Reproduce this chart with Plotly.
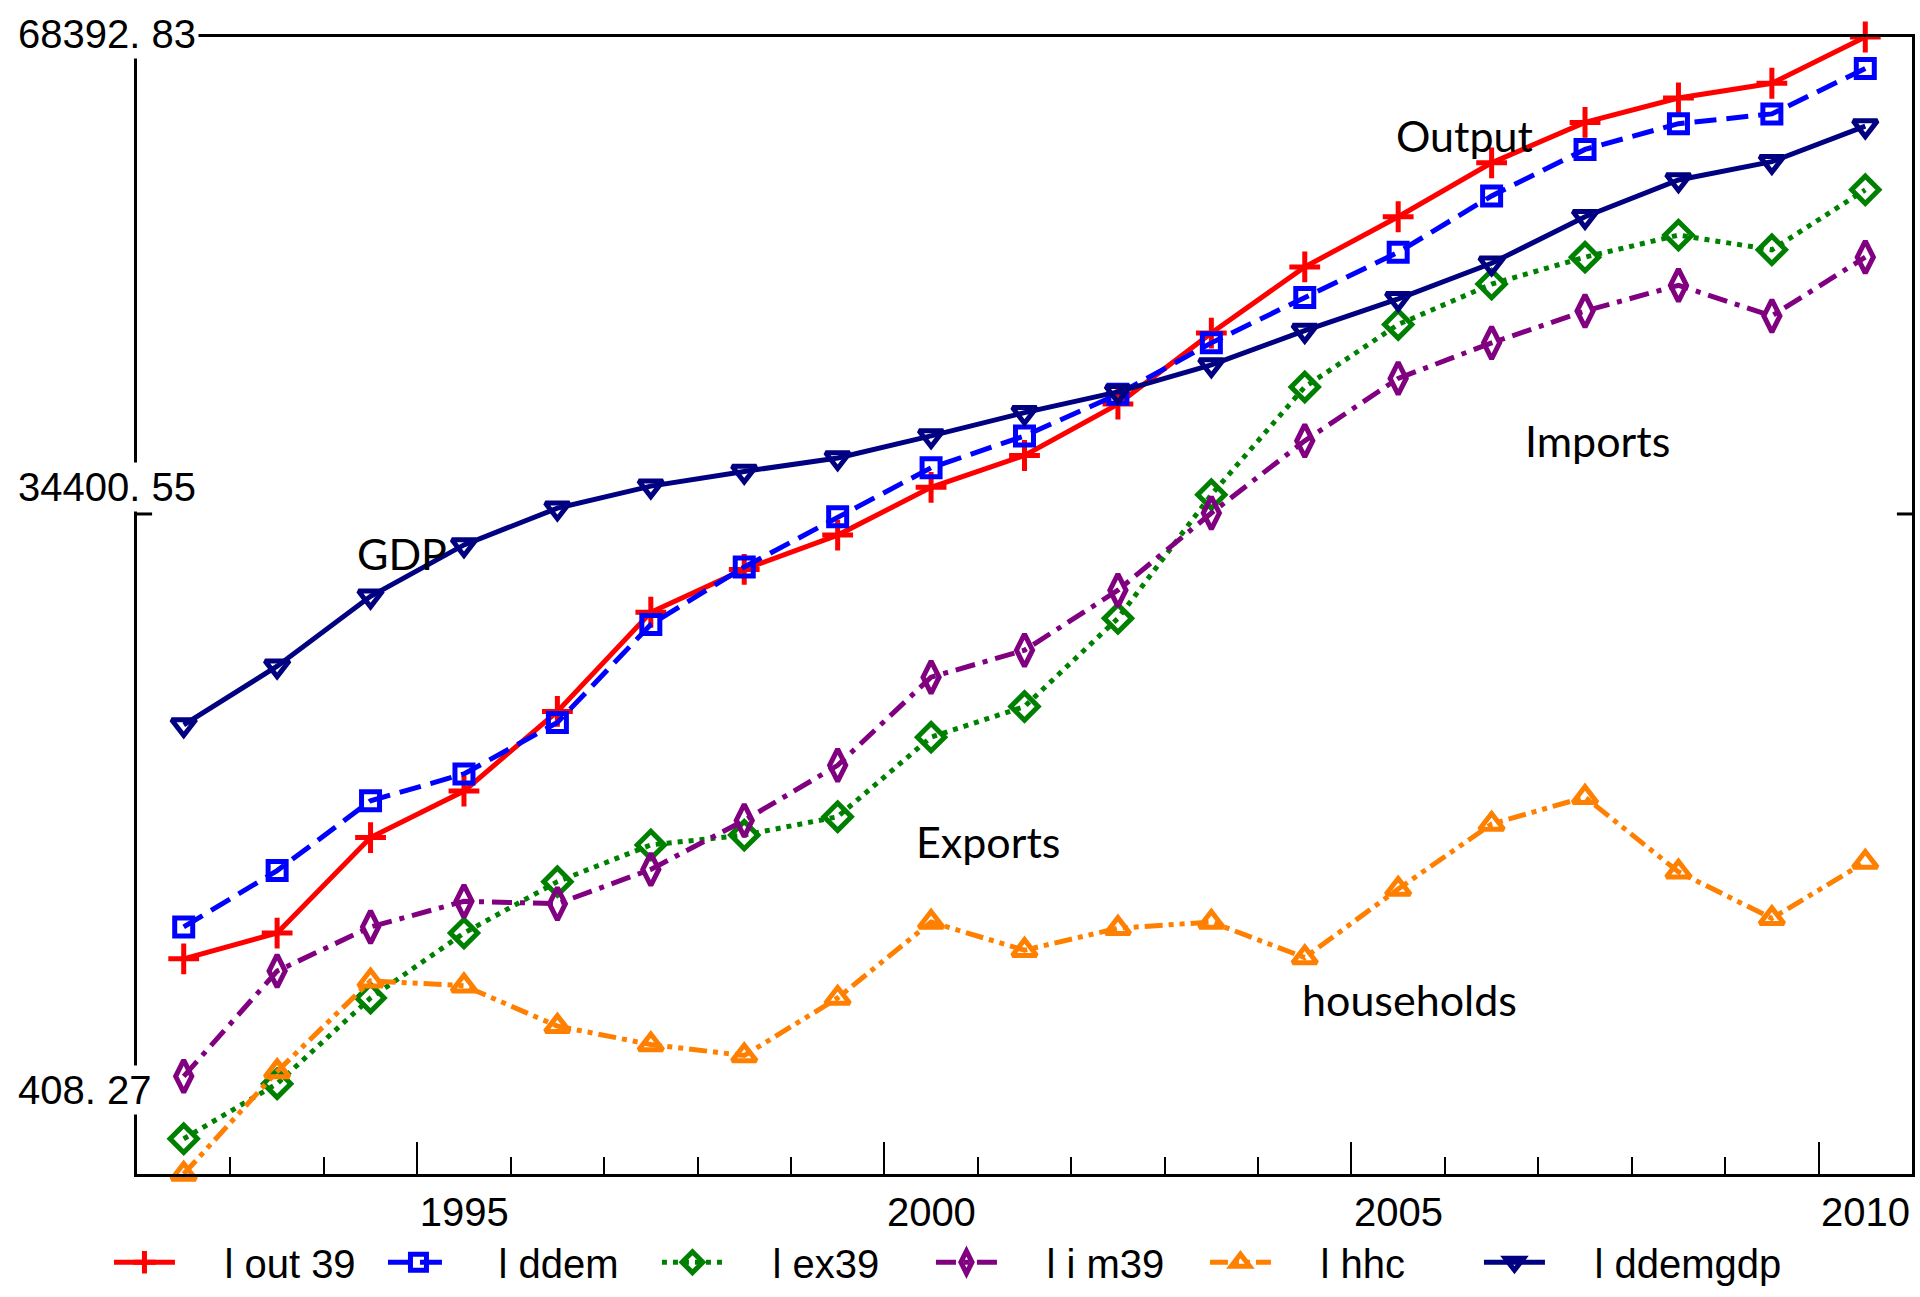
import plotly.graph_objects as go

# Annual observations, plotted at mid-year
years = list(range(1992, 2011))

l_out_39 = [13276, 14814, 20525, 23307, 28066, 33997, 36559, 38610, 41465, 43369,
            46444, 50690, 54644, 57646, 60867, 63284, 64748, 65627, 68392.83]
l_ddem = [15180, 18548, 22721, 24332, 27407, 33265, 36706, 39708, 42636, 44540,
          47029, 50105, 52814, 55523, 58891, 61673, 63210, 63796, 66505]
l_ex39 = [2514, 5808, 10933, 14814, 17889, 20086, 20671, 21770, 26529, 28359,
          33631, 41026, 47469, 51203, 53619, 55230, 56548, 55669, 59257]
l_im39 = [6248, 12544, 15180, 16718, 16571, 18621, 21550, 24845, 30116, 31727,
          35315, 39927, 44247, 47981, 50105, 52008, 53546, 51715, 55230]
l_hhc = [408.27, 6540, 11959, 11666, 9250, 8151, 7492, 10933, 15473, 13789,
         15107, 15473, 13350, 17450, 21330, 22941, 18475, 15693, 19061]
l_ddemgdp = [27261, 30775, 34949, 38024, 40220, 41538, 42417, 43222, 44540, 45931,
             47176, 48787, 50837, 52740, 54864, 57646, 59842, 60941, 63064]

series_names = ["l out 39", "l ddem", "l ex39", "l i m39", "l hhc", "l ddemgdp"]
series_values = [l_out_39, l_ddem, l_ex39, l_im39, l_hhc, l_ddemgdp]

y_min, y_max = 408.27, 68392.83
y_labels = ["68392. 83", "34400. 55", "408. 27"]

# Styles per series: colour, dash pattern, marker symbol, marker size
styles = [
    ("#FF0000", "solid", "cross-thin-open", 22),
    ("#0000FF", "22px,10px", "square-open", 18),
    ("#008000", "5px,6px", "diamond-open", 21),
    ("#800080", "20px,8px,5px,8px", "diamond-tall-open", 23),
    ("#FF8000", "18px,6px,5px,6px,5px,6px", "triangle-up-open", 21),
    ("#000080", "solid", "triangle-down-open", 21),
]

x_mid = [y + 0.5 for y in years]
pad = "\u00a0" * 4

fig = go.Figure()
for i, (name, vals, (color, dash, symbol, size)) in enumerate(
        zip(series_names, series_values, styles)):
    fig.add_trace(go.Scatter(
        x=x_mid, y=vals, name=pad + name, mode="lines+markers",
        line=dict(color=color, width=5, dash=dash),
        marker=dict(symbol=symbol, size=size, color=color,
                    line=dict(color=color, width=5)),
        cliponaxis=False,
        legendwidth=260 if i == len(series_names) - 1 else None,
    ))

axis_font = dict(family="Liberation Sans, Arial, sans-serif", size=40, color="black")

fig.update_layout(
    width=1920, height=1297,
    margin=dict(l=137, r=8, t=37, b=123, autoexpand=False),
    paper_bgcolor="white", plot_bgcolor="white",
    font=axis_font,
    xaxis=dict(
        range=[1992, 2011], showgrid=False, zeroline=False,
        showline=True, linecolor="black", linewidth=3, mirror=True,
        tickmode="linear", tick0=1995, dtick=5,
        ticks="inside", ticklen=32, tickwidth=2, tickcolor="black",
        ticklabelshift=47, ticklabelstandoff=1,
        tickfont=axis_font,
        minor=dict(tick0=1992, dtick=1, ticks="inside", ticklen=17,
                   tickwidth=2, tickcolor="black"),
    ),
    yaxis=dict(
        range=[y_min, y_max], showgrid=False, zeroline=False,
        showline=True, linecolor="black", linewidth=3, mirror=True,
        showticklabels=False, ticks="",
    ),
    showlegend=True,
    legend=dict(
        orientation="h", x=-0.0158, xanchor="left", y=-0.049, yanchor="top",
        font=axis_font, itemwidth=61, entrywidth=198, entrywidthmode="pixels",
        bgcolor="rgba(0,0,0,0)", tracegroupgap=0,
    ),
)

# Value labels on the left edge (min, midpoint, max of the scale)
label_pos = [1.0025, 0.6042, 0.0739]
for txt, yp in zip(y_labels, label_pos):
    fig.add_annotation(
        text=txt, xref="paper", yref="paper", x=-0.0687, y=yp,
        xanchor="left", yanchor="middle", showarrow=False,
        font=axis_font, bgcolor="white", borderpad=2,
    )

# Short inward tick marks on both vertical edges
tick_y = 0.5805
for x0, x1 in [(0, 0.0085), (0.9915, 1)]:
    fig.add_shape(type="line", xref="paper", yref="paper",
                  x0=x0, x1=x1, y0=tick_y, y1=tick_y,
                  line=dict(color="black", width=3))

# Series captions inside the plot
text_font = dict(family="Lato, Calibri, sans-serif", size=43, color="black")
captions = [
    ("Output", 2005.45, 62474),
    ("GDP", 1994.33, 37539),
    ("Imports", 2006.84, 44237),
    ("Exports", 2000.32, 20319),
    ("households", 2004.45, 10872),
]
for txt, cx, cy in captions:
    fig.add_annotation(text=txt, x=cx, y=cy, xanchor="left", yanchor="middle",
                       showarrow=False, font=text_font)

fig.write_html("out.html")
